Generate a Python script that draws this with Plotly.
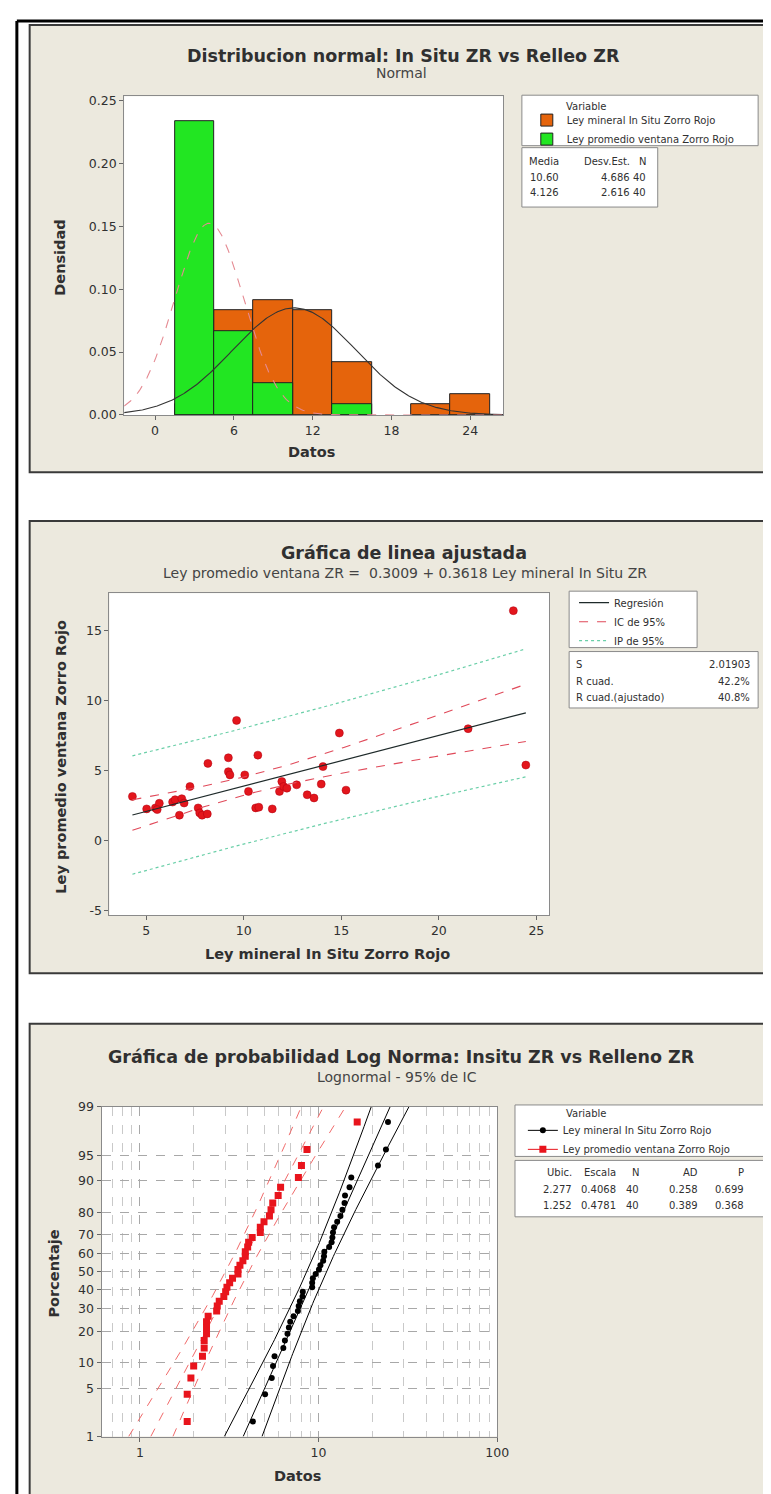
import numpy as np
import plotly.graph_objects as go
from statistics import NormalDist

W, H = 771, 1494

# ---------------- data ----------------
in_situ = [4.29, 5.02, 5.47, 5.67, 5.56, 6.35, 6.48, 6.70, 6.82, 6.94,
           7.24, 7.66, 7.74, 7.86, 8.13, 8.16, 9.21, 9.21, 9.29, 9.63,
           10.05, 10.24, 10.61, 10.72, 10.77, 11.46, 11.83, 11.95, 12.04, 12.21,
           12.71, 13.25, 13.60, 13.97, 14.06, 14.90, 15.24, 21.50, 23.82, 24.46]
ventana = [3.18, 2.29, 2.36, 2.69, 2.24, 2.78, 2.95, 1.84, 3.02, 2.71,
           3.89, 2.36, 2.00, 1.84, 1.93, 5.54, 5.94, 4.95, 4.72, 8.61,
           4.72, 3.54, 2.36, 6.13, 2.41, 2.29, 3.54, 4.25, 3.89, 3.77,
           4.01, 3.30, 3.07, 4.06, 5.31, 7.71, 3.63, 8.02, 16.45, 5.42]

var_names = ["Ley mineral In Situ Zorro Rojo", "Ley promedio ventana Zorro Rojo"]

# histogram / normal fit stats
norm_mean = [10.60, 4.126]
norm_sd = [4.686, 2.616]
norm_n = [40, 40]
bin_start, bin_size, bin_end = 1.5, 3.0, 25.5
hist_ticks = [0, 6, 12, 18, 24]
dens_ticks = [0.00, 0.05, 0.10, 0.15, 0.20, 0.25]

# regression stats
reg_b0, reg_b1 = 0.3009, 0.3618
reg_S = 2.01903
reg_rsq, reg_rsq_adj = 42.2, 40.8
t_975_38 = 2.0244
reg_xticks = [5, 10, 15, 20, 25]
reg_yticks = [-5, 0, 5, 10, 15]

# lognormal stats
ln_loc = [2.277, 1.252]
ln_scale = [0.4068, 0.4781]
ln_n = [40, 40]
ln_ad = [0.258, 0.389]
ln_p = [0.699, 0.368]
prob_ticks = [1, 5, 10, 20, 30, 40, 50, 60, 70, 80, 90, 95, 99]

# ---------------- styling ----------------
FONT = "DejaVu Sans"
BEIGE = "#ECE9DE"
FRAME = "#8A8A8A"
TXT = "#303030"
ORANGE = "#E5640C"
GREEN = "#22E622"


def fx(px):
    return px / W


def fy(py):
    return 1 - py / H


fig = go.Figure()

# ---------------- panel 1: histograms ----------------
fig.add_trace(go.Histogram(
    x=in_situ, xbins=dict(start=bin_start, end=bin_end, size=bin_size),
    histnorm="probability density", name=var_names[0],
    marker=dict(color=ORANGE, line=dict(color="#222", width=1)),
    opacity=1, xaxis="x", yaxis="y", legend="legend"))
fig.add_trace(go.Histogram(
    x=ventana, xbins=dict(start=bin_start, end=bin_end, size=bin_size),
    histnorm="probability density", name=var_names[1],
    marker=dict(color=GREEN, line=dict(color="#222", width=1)),
    opacity=1, xaxis="x", yaxis="y", legend="legend"))

xs = np.linspace(-2.35, 26.5, 300)
for m, s, col, dash in [(norm_mean[0], norm_sd[0], "#333333", "solid"),
                        (norm_mean[1], norm_sd[1], "#E58A92", "dash")]:
    pdf = np.exp(-0.5 * ((xs - m) / s) ** 2) / (s * np.sqrt(2 * np.pi))
    fig.add_trace(go.Scatter(x=xs, y=pdf, mode="lines", showlegend=False,
                             line=dict(color=col, width=1.1, dash=dash),
                             xaxis="x", yaxis="y", hoverinfo="skip"))

# ---------------- panel 2: fitted line ----------------
xa = np.array(in_situ)
n = len(xa)
xbar = xa.mean()
sxx = ((xa - xbar) ** 2).sum()
xl = np.linspace(xa.min(), xa.max(), 100)
fit = reg_b0 + reg_b1 * xl
se_fit = reg_S * np.sqrt(1 / n + (xl - xbar) ** 2 / sxx)
se_pred = np.sqrt(reg_S ** 2 + se_fit ** 2)

fig.add_trace(go.Scatter(x=in_situ, y=ventana, mode="markers", showlegend=False,
                         marker=dict(color="#E3161C", size=8,
                                     line=dict(color="#B00010", width=0.5)),
                         xaxis="x2", yaxis="y2"))
fig.add_trace(go.Scatter(x=xl, y=fit, mode="lines", name="Regresión",
                         line=dict(color="#1E2A2A", width=1.2),
                         xaxis="x2", yaxis="y2", legend="legend2"))
fig.add_trace(go.Scatter(x=xl, y=fit + t_975_38 * se_fit, mode="lines", name="IC de 95%",
                         line=dict(color="#E04A5A", width=1.1, dash="dash"),
                         xaxis="x2", yaxis="y2", legend="legend2", legendgroup="ic"))
fig.add_trace(go.Scatter(x=xl, y=fit - t_975_38 * se_fit, mode="lines", showlegend=False,
                         line=dict(color="#E04A5A", width=1.1, dash="dash"),
                         xaxis="x2", yaxis="y2", legendgroup="ic"))
fig.add_trace(go.Scatter(x=xl, y=fit + t_975_38 * se_pred, mode="lines", name="IP de 95%",
                         line=dict(color="#6ACFA8", width=1.2, dash="dot"),
                         xaxis="x2", yaxis="y2", legend="legend2", legendgroup="ip"))
fig.add_trace(go.Scatter(x=xl, y=fit - t_975_38 * se_pred, mode="lines", showlegend=False,
                         line=dict(color="#6ACFA8", width=1.2, dash="dot"),
                         xaxis="x2", yaxis="y2", legendgroup="ip"))

# ---------------- panel 3: lognormal probability plot ----------------
nd = NormalDist()
zmax = nd.inv_cdf(0.99)
zz = np.linspace(-zmax, zmax, 120)
series3 = [(in_situ, "#000000", "circle", 6, "solid"),
           (ventana, "#E8141C", "square", 7, "dash")]
for k, (data, col, sym, msz, dash) in enumerate(series3):
    loc, sc, nn = ln_loc[k], ln_scale[k], ln_n[k]
    half = 1.96 * sc * np.sqrt(1 / nn + zz ** 2 / (2 * nn))
    lcol = col if k == 0 else "#F06A6A"
    for off in (0, -1, 1):
        fig.add_trace(go.Scatter(x=np.exp(loc + sc * zz + off * half), y=zz, mode="lines",
                                 showlegend=False, hoverinfo="skip",
                                 line=dict(color=lcol, width=1, dash=dash),
                                 xaxis="x3", yaxis="y3"))
    srt = sorted(data)
    zpts = [nd.inv_cdf((i + 1 - 0.3) / (len(srt) + 0.4)) for i in range(len(srt))]
    fig.add_trace(go.Scatter(x=srt, y=zpts, mode="markers", showlegend=False,
                             marker=dict(color=col, symbol=sym, size=msz),
                             xaxis="x3", yaxis="y3"))
    # legend entry (line + marker)
    fig.add_trace(go.Scatter(x=[None], y=[None], mode="lines+markers", name=var_names[k],
                             marker=dict(color=col, symbol=sym, size=msz),
                             line=dict(color=col, width=1),
                             xaxis="x3", yaxis="y3", legend="legend3"))

# ---------------- layout ----------------
axis_common = dict(showgrid=False, zeroline=False, showline=True, mirror=True,
                   linecolor=FRAME, linewidth=1, ticks="outside", ticklen=4,
                   tickcolor="#666", tickfont=dict(family=FONT, size=12.5, color=TXT))

p1 = dict(x0=118, x1=503, y0=81, y1=403)
p2 = dict(x0=103, x1=550, y0=583, y1=908)
p3 = dict(x0=95, x1=497, y0=1102, y1=1435)


def dom(p):
    return [fx(p["x0"]), fx(p["x1"])], [fy(p["y1"]), fy(p["y0"])]


d1x, d1y = dom(p1)
d2x, d2y = dom(p2)
d3x, d3y = dom(p3)

grid3 = dict(showgrid=True, gridcolor="#A8A8A8", griddash="dash", gridwidth=1)

fig.update_layout(
    width=W, height=H, margin=dict(l=0, r=0, t=0, b=0),
    paper_bgcolor="white", plot_bgcolor="white",
    barmode="overlay", bargap=0,
    font=dict(family=FONT, color=TXT),
    xaxis=dict(domain=d1x, anchor="y", range=[-2.35, 26.5],
               tickvals=hist_ticks, **axis_common),
    yaxis=dict(domain=d1y, anchor="x", range=[0, 0.2535],
               tickvals=dens_ticks, ticktext=[f"{v:.2f}" for v in dens_ticks], **axis_common),
    xaxis2=dict(domain=d2x, anchor="y2", range=[3.11, 25.67],
                tickvals=reg_xticks, ticktext=[str(v) for v in reg_xticks], **axis_common),
    yaxis2=dict(domain=d2y, anchor="x2", range=[-5.28, 17.7],
                tickvals=reg_yticks, ticktext=[str(v) for v in reg_yticks], **axis_common),
    xaxis3=dict(domain=d3x, anchor="y3", type="log", range=[np.log10(0.61), 2.0],
                tickvals=[1, 10, 100], ticktext=["1", "10", "100"],
                minor=dict(tickvals=[0.7, 0.8, 0.9, 2, 3, 4, 5, 6, 7, 8, 9,
                                     20, 30, 40, 50, 60, 70, 80, 90],
                           showgrid=True, gridcolor="#C9C9C9", griddash="dash", ticklen=0),
                **{**axis_common, **grid3}),
    yaxis3=dict(domain=d3y, anchor="x3", range=[-zmax, zmax],
                tickvals=[nd.inv_cdf(p / 100) for p in prob_ticks],
                ticktext=[str(p) for p in prob_ticks],
                **{**axis_common, **grid3}),
)

leg_common = dict(bgcolor="rgba(0,0,0,0)", borderwidth=0,
                  font=dict(family=FONT, size=10, color=TXT), xanchor="left", yanchor="top",
                  tracegroupgap=0, itemclick=False, itemdoubleclick=False)
fig.update_layout(
    legend=dict(x=fx(527), y=fy(90.5), **leg_common),
    legend2=dict(x=fx(575), y=fy(578), **leg_common),
    legend3=dict(x=fx(523), y=fy(1111), **leg_common),
)

shapes = []
# panel backgrounds
for (ya, yb) in [(9, 461), (510, 967), (1018, 1510)]:
    shapes.append(dict(type="rect", xref="paper", yref="paper", layer="below",
                       x0=fx(22), x1=fx(800), y0=fy(yb), y1=fy(ya),
                       fillcolor=BEIGE, line=dict(color="#3A3A3A", width=2)))
# outer frame lines
shapes.append(dict(type="line", xref="paper", yref="paper", x0=fx(9), x1=fx(9),
                   y0=0, y1=fy(5), line=dict(color="black", width=3)))
shapes.append(dict(type="line", xref="paper", yref="paper", x0=fx(9), x1=1,
                   y0=fy(5), y1=fy(5), line=dict(color="black", width=3)))
# white plot areas
for ax in ["x", "x2", "x3"]:
    yax = "y" + ax[1:]
    shapes.append(dict(type="rect", xref=ax + " domain", yref=yax + " domain", layer="below",
                       x0=0, x1=1, y0=0, y1=1, fillcolor="white", line=dict(width=0)))

# legend boxes and stats boxes
boxes = [(522, 762, 80, 131), (522, 660, 133, 193),
         (570, 700, 581, 638), (570, 762, 642, 699),
         (515, 768, 1100, 1152), (515, 768, 1156, 1213)]
for (xa0, xa1, ya0, ya1) in boxes:
    shapes.append(dict(type="rect", xref="paper", yref="paper", layer="below",
                       x0=fx(xa0), x1=fx(xa1), y0=fy(ya1), y1=fy(ya0),
                       fillcolor="white", line=dict(color=FRAME, width=1)))
fig.update_layout(shapes=shapes)

ann = []


def txt(x, y, s, size=10, bold=False, xanchor="center", angle=0, color=TXT):
    ann.append(dict(x=fx(x), y=fy(y), xref="paper", yref="paper", showarrow=False,
                    text=f"<b>{s}</b>" if bold else s, xanchor=xanchor, yanchor="middle",
                    textangle=angle, font=dict(family=FONT, size=size, color=color)))


# titles
txt(402, 40, "Distribucion normal: In Situ ZR vs Relleo ZR", 17.5, True)
txt(400, 58, "Normal", 14, color="#444")
txt(402, 542, "Gráfica de linea ajustada", 17.5, True)
txt(403, 563, f"Ley promedio ventana ZR =  {reg_b0:.4f} + {reg_b1:.4f} Ley mineral In Situ ZR", 14,
    color="#444")
txt(400, 1052, "Gráfica de probabilidad Log Norma: Insitu ZR vs Relleno ZR", 17.5, True)
txt(395, 1072, "Lognormal - 95% de IC", 14, color="#444")

# axis titles
txt(308, 440, "Datos", 14.5, True)
txt(52, 244, "Densidad", 14.5, True, angle=-90)
txt(325, 948, "Ley mineral In Situ Zorro Rojo", 14.5, True)
txt(54, 748, "Ley promedio ventana Zorro Rojo", 14.5, True, angle=-90)
txt(294, 1475, "Datos", 14.5, True)
txt(47, 1270, "Porcentaje", 14.5, True, angle=-90)

# legend titles
txt(588, 91, "Variable", 10)
txt(588, 1109, "Variable", 10)

# stats table 1
cols1 = [562, 634, 650]
hdr1 = ["Media", "Desv.Est.", "N"]
for c, h in zip(cols1, hdr1):
    txt(c, 147, h, 10, xanchor="right")
for r, yy in enumerate([163, 178]):
    vals = [f"{norm_mean[r]:.2f}" if r == 0 else f"{norm_mean[r]:.3f}", f"{norm_sd[r]:.3f}", str(norm_n[r])]
    for c, v in zip(cols1, vals):
        txt(c, yy, v, 10, xanchor="right")

# stats table 2
for lab, val, yy in [("S", f"{reg_S:.5f}", 655), ("R cuad.", f"{reg_rsq:.1f}%", 672),
                     ("R cuad.(ajustado)", f"{reg_rsq_adj:.1f}%", 688)]:
    txt(575, yy, lab, 10, xanchor="left")
    txt(756, yy, val, 10, xanchor="right")

# stats table 3
cols3 = [575, 620, 643, 703, 750]
hdr3 = ["Ubic.", "Escala", "N", "AD", "P"]
for c, h in zip(cols3, hdr3):
    txt(c, 1168, h, 10, xanchor="right")
for r, yy in enumerate([1185, 1202]):
    vals = [f"{ln_loc[r]:.3f}", f"{ln_scale[r]:.4f}", str(ln_n[r]), f"{ln_ad[r]:.3f}", f"{ln_p[r]:.3f}"]
    for c, v in zip(cols3, vals):
        txt(c, yy, v, 10, xanchor="right")

fig.update_layout(annotations=ann)
fig.write_html("out.html")
